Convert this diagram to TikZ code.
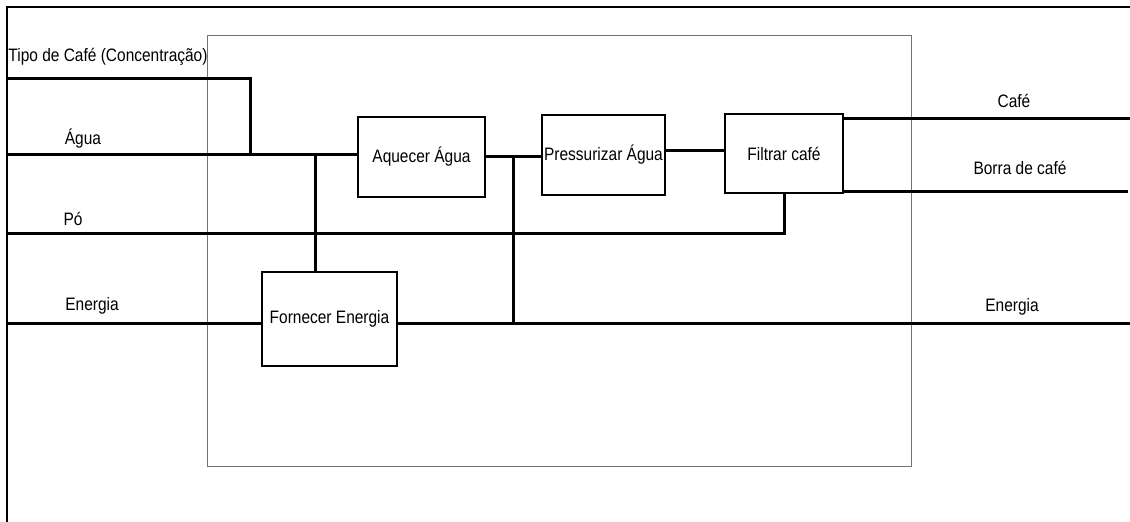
\documentclass[tikz,border=0pt]{standalone}
\usepackage{fontspec}
\setmainfont{Liberation Sans}[FakeStretch=0.86]
\usepackage{tikz}
\usetikzlibrary{positioning, calc}

\begin{document}
\begin{tikzpicture}[x=1pt, y=-1pt, font=\fontsize{18}{21}\selectfont]
    \tikzstyle{func} = [rectangle, draw=black, line width=2.8pt, inner sep=0pt, align=center]
    \tikzstyle{flow} = [line width=3pt]
    \tikzstyle{lbl} = [inner sep=0pt]

    \useasboundingbox (0,0) rectangle (1130,522);
    \fill[white] (0,0) rectangle (1130,522);

    % frame and system border
    \draw [line width=2pt] (7,522) -- (7,7) -- (1130,7);
    \draw [black!55, line width=0.9pt] (207,35) rectangle (911,466);

    % functions
    \node (aquecer) [func, minimum width=127, minimum height=80] at (421.5,157) {Aquecer Água};
    \node (pressurizar) [func, minimum width=123, minimum height=80] at (603.5,155) {Pressurizar Água};
    \node (filtrar) [func, minimum width=118, minimum height=79] at (784,153.5) {Filtrar café};
    \node (fornecer) [func, minimum width=135, minimum height=94] at (329.5,319) {Fornecer Energia};

    % labels
    \node (tipo) [lbl] at (108,57) {Tipo de Café (Concentração)};
    \node (agua) [lbl] at (83,139) {Água};
    \node (po) [lbl] at (73,219) {Pó};
    \node (energiaA) [lbl] at (92,306) {Energia};
    \node (cafe) [lbl] at (1014,101) {Café};
    \node (borra) [lbl] at (1020,168) {Borra de café};
    \node (energiaB) [lbl] at (1012,307) {Energia};

    % free ends
    \coordinate (tipoin) at (7,78);
    \coordinate (aguain) at (7,154);
    \coordinate (tipojoin) at (250,154);
    \coordinate (aguatap) at (315,154);
    \coordinate (prestap) at (513,156);
    \coordinate (poin) at (7,233);
    \coordinate (energiain) at (7,323);
    \coordinate (energiaout) at (1130,323);
    \coordinate (cafeout) at (1130,118);
    \coordinate (borraout) at (1128,191);

    \draw [flow] (tipoin) -| (tipojoin);
    \draw [flow] (aguain) -- (aguain -| aquecer.west);
    \draw [flow] (aguatap) -- (aguatap |- fornecer.north);
    \draw [flow] (aquecer.east |- prestap) -- (prestap -| pressurizar.west);
    \draw [flow] (prestap) -- (prestap |- energiaout);
    \draw [flow] (pressurizar.east |- 0,150) -- (filtrar.west |- 0,150);
    \draw [flow] (cafeout -| filtrar.east) -- (cafeout);
    \draw [flow] (borraout -| filtrar.east) -- (borraout);
    \draw [flow] (poin) -| (filtrar.south);
    \draw [flow] (energiain) -- (energiain -| fornecer.west);
    \draw [flow] (fornecer.east |- energiaout) -- (energiaout);
\end{tikzpicture}
\end{document}
